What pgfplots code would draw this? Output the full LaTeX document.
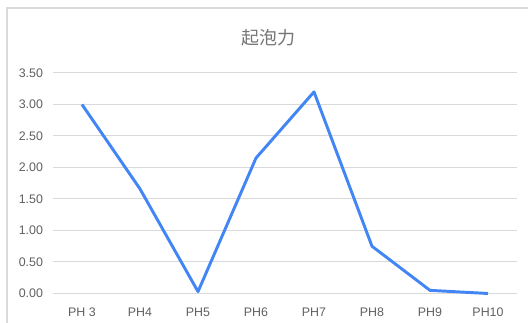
\documentclass[border=0pt]{standalone}
\usepackage{pgfplots}
\pgfplotsset{compat=1.18}
\usepackage{fontspec}
\setmainfont{Liberation Sans}
\newfontfamily\cjk{Noto Sans CJK SC}
\definecolor{lineblue}{HTML}{4285F4}
\definecolor{gridgray}{HTML}{D9D9D9}
\definecolor{labelgray}{HTML}{606060}
\definecolor{titlegray}{HTML}{757575}
\definecolor{framegray}{HTML}{DADADA}
\begin{document}
\begin{tikzpicture}
% canvas and outer chart frame
\path[use as bounding box] (-39.75pt,-21.375pt) rectangle (356.25pt,220.125pt);
\begin{scope}
\clip (-39.75pt,-21.375pt) rectangle (356.25pt,220.125pt);
\draw[framegray, line width=1.2pt] (-34.5pt,-40pt) rectangle (380pt,214.1pt);
\end{scope}
\begin{axis}[
  scale only axis,
  width=348pt, height=165.4pt,
  xmin=-0.5, xmax=7.5,
  ymin=0, ymax=3.5,
  ytick={0,0.5,...,3.5},
  xtick={0,...,7},
  xticklabels={PH 3,PH4,PH5,PH6,PH7,PH8,PH9,PH10},
  axis line style={draw=none},
  major tick length=0pt,
  ymajorgrids,
  grid style={gridgray, line width=0.75pt},
  tick label style={font=\fontsize{9.3}{11}\selectfont, text=labelgray},
  /pgf/number format/fixed,
  /pgf/number format/fixed zerofill,
  /pgf/number format/precision=2,
  /pgf/number format/assume math mode=true,
  yticklabel style={xshift=-4pt},
  xticklabel style={yshift=-7pt},
  clip=false,
]
\addplot[lineblue, line width=2.2pt, line join=round] coordinates {
  (0,3.00) (1,1.66) (2,0.03) (3,2.15) (4,3.20) (5,0.75) (6,0.05) (7,0.00)
};
\end{axis}
\node[text=titlegray, font=\cjk\fontsize{13.5}{16}\selectfont] at (161.25pt,191.6pt) {起泡力};
\end{tikzpicture}
\end{document}
